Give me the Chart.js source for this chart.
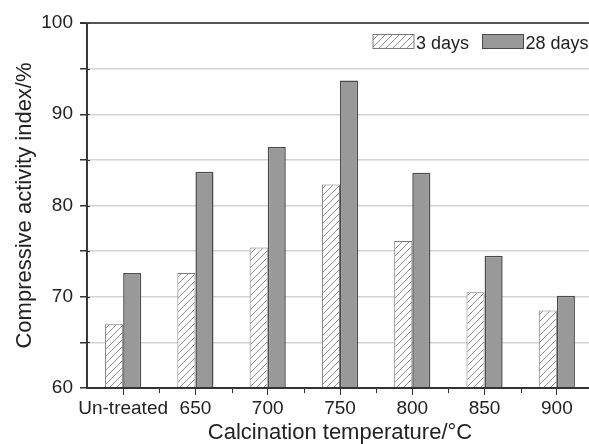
<!DOCTYPE html>
<html>
<head>
  <meta charset="utf-8">
  <title>Compressive activity index</title>
  <script src="https://cdn.jsdelivr.net/npm/chart.js"></script>
  <style>
    body { margin: 0; overflow: hidden; background: #fff; }
    #wrap { width: 596px; height: 444px; }
  </style>
</head>
<body>
  <div id="wrap"><canvas id="chart"></canvas></div>

  <script>
    const labels = ['Un-treated', '650', '700', '750', '800', '850', '900'];
    const days3  = [67.0, 72.6, 75.4, 82.3, 76.1, 70.5, 68.5];
    const days28 = [72.6, 83.7, 86.4, 93.7, 83.6, 74.5, 70.1];
    const seriesNames = ['3 days', '28 days'];

    const FONT = '"Liberation Sans", Arial, sans-serif';

    // diagonal hatch for the 3 days bars
    function makeHatch() {
      const c = document.createElement('canvas');
      c.width = 7; c.height = 7;
      const g = c.getContext('2d');
      g.fillStyle = '#fff';
      g.fillRect(0, 0, 7, 7);
      g.strokeStyle = '#909090';
      g.lineWidth = 1;
      g.beginPath();
      g.moveTo(0, 7); g.lineTo(7, 0);
      g.moveTo(-1, 1); g.lineTo(1, -1);
      g.moveTo(6, 8); g.lineTo(8, 6);
      g.stroke();
      return g.createPattern(c, 'repeat');
    }
    const hatch = makeHatch();

    // axis lines on top of the bars, ticks between categories,
    // and the little bits of the y ticks that poke through the axis
    const axisExtras = {
      id: 'axisExtras',
      afterDatasetsDraw(chart) {
        const xs = chart.scales.x;
        const ys = chart.scales.y;
        const a = chart.chartArea;
        const ctx = chart.ctx;
        ctx.save();
        ctx.strokeStyle = '#333';
        ctx.lineWidth = 1;
        for (let i = 1; i < labels.length; i++) {
          const x = Math.round((xs.getPixelForTick(i - 1) + xs.getPixelForTick(i)) / 2) + 0.5;
          ctx.beginPath();
          ctx.moveTo(x, a.bottom);
          ctx.lineTo(x, a.bottom + 5);
          ctx.stroke();
        }
        ys.ticks.forEach((t, i) => {
          const y = Math.round(ys.getPixelForTick(i)) + 0.5;
          ctx.beginPath();
          ctx.moveTo(a.left, y);
          ctx.lineTo(a.left + 3, y);
          ctx.stroke();
        });
        ctx.lineWidth = 1.8;
        ctx.beginPath();
        ctx.moveTo(a.left, a.top);
        ctx.lineTo(a.left, a.bottom);
        ctx.lineTo(a.right, a.bottom);
        ctx.stroke();
        ctx.restore();
      }
    };

    // legend inside the plot, box right next to the text
    const boxLegend = {
      id: 'boxLegend',
      afterDraw(chart) {
        const ctx = chart.ctx;
        const spots = [373, 482.5];
        ctx.save();
        ctx.font = '18px ' + FONT;
        ctx.textBaseline = 'alphabetic';
        chart.data.datasets.forEach((ds, i) => {
          const x = spots[i];
          ctx.fillStyle = ds.backgroundColor;
          ctx.fillRect(x, 34.5, 41, 14);
          ctx.strokeStyle = ds.borderColor;
          ctx.lineWidth = 1;
          ctx.strokeRect(x, 34.5, 41, 14);
          ctx.fillStyle = '#222';
          ctx.fillText(ds.label, x + 43, 48.5);
        });
        ctx.restore();
      }
    };

    window.onload = () => {
      const ctx = document.getElementById('chart').getContext('2d');
      new Chart(ctx, {
        type: 'bar',
        data: {
          labels: labels,
          datasets: [
            {
              label: seriesNames[0],
              data: days3,
              backgroundColor: hatch,
              borderColor: '#7a7a7a',
              borderWidth: 1
            },
            {
              label: seriesNames[1],
              data: days28,
              backgroundColor: '#999999',
              borderColor: '#4a4a4a',
              borderWidth: 1.5
            }
          ]
        },
        plugins: [axisExtras, boxLegend],
        options: {
          responsive: true,
          maintainAspectRatio: false,
          animation: false,
          layout: { padding: { top: 23, right: 3, left: 0, bottom: 0 } },
          datasets: { bar: { categoryPercentage: 0.5, barPercentage: 1.0 } },
          plugins: {
            legend: { display: false },
            tooltip: { enabled: false }
          },
          scales: {
            x: {
              afterFit: s => { s.height = 56; },
              grid: {
                display: true,
                drawOnChartArea: false,
                offset: false,
                tickLength: 7,
                tickColor: '#333'
              },
              border: { color: '#333', width: 1.5 },
              ticks: {
                color: '#222',
                font: { family: FONT, size: 19 },
                padding: 2,
                maxRotation: 0,
                autoSkip: false
              },
              title: {
                display: true,
                text: 'Calcination temperature/°C',
                color: '#222',
                font: { family: FONT, size: 22, lineHeight: 1 },
                padding: 0
              }
            },
            y: {
              min: 60,
              max: 100,
              afterFit: s => { s.width = 87; },
              grid: {
                color: c => c.tick.value === 100 ? '#555' : (c.tick.value === 60 ? 'rgba(0,0,0,0)' : '#d4d4d4'),
                lineWidth: c => c.tick.value === 100 ? 2 : 1.5,
                tickLength: 7,
                tickColor: '#333'
              },
              border: { color: '#333', width: 1.5 },
              ticks: {
                stepSize: 5,
                color: '#222',
                padding: 7,
                font: { family: FONT, size: 19 },
                callback: v => (v % 10 === 0 ? v : '')
              },
              title: {
                display: true,
                text: 'Compressive activity index/%',
                color: '#222',
                font: { family: FONT, size: 22, lineHeight: 1 },
                padding: { top: 14, bottom: 0 }
              }
            }
          }
        }
      });
    };
  </script>
</body>
</html>
